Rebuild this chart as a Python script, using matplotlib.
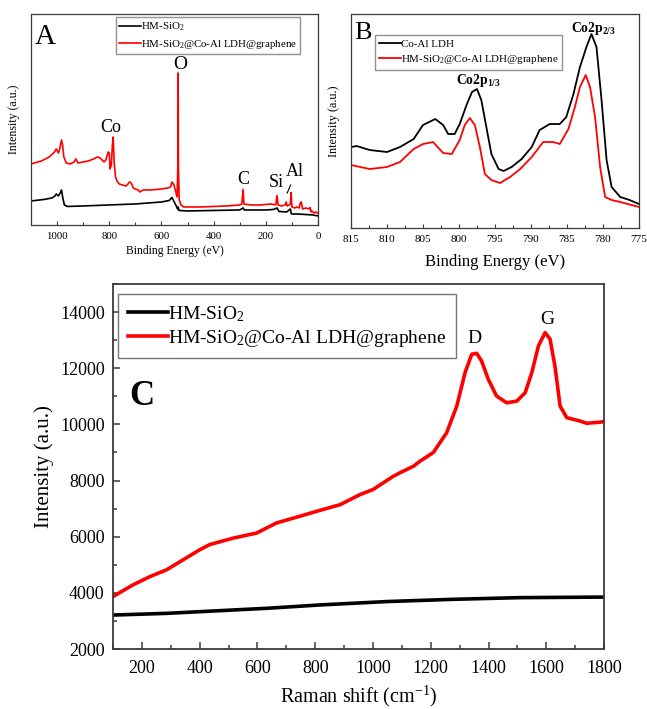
import matplotlib
matplotlib.use('Agg')
import matplotlib.pyplot as plt

plt.rcParams['font.family'] = ['Liberation Serif', 'DejaVu Serif']
plt.rcParams['mathtext.fontset'] = 'custom'
plt.rcParams['mathtext.rm'] = 'Liberation Serif'
plt.rcParams['mathtext.it'] = 'Liberation Serif:italic'
plt.rcParams['mathtext.bf'] = 'Liberation Serif:bold'
plt.rcParams['axes.unicode_minus'] = False

# (A) XPS survey spectra, binding energy (eV) vs intensity (a.u.)
a_red_x = [1100, 1060, 1030, 1010, 1003, 995, 990, 983, 979, 974, 965, 950, 935, 928, 920, 900,
           880, 860, 845, 835, 820, 813, 804, 800, 797, 792, 788, 785, 781, 776, 770, 762, 750,
           735, 722, 716, 708, 700, 690, 683, 670, 640, 600, 575, 565, 560, 552, 546, 540, 537,
           536, 535, 532, 525, 515, 450, 400, 350, 300, 292, 287, 284, 260, 220, 180, 162, 157,
           153, 140, 126, 122, 118, 110, 106, 103, 100, 90, 80, 72, 68, 64, 59, 45, 35, 30, 27,
           24, 15, 8, 0]
a_red_y = [61, 64, 68, 73, 76, 72, 76, 85, 80, 68, 62, 61, 63, 66, 62, 63,
           64, 66, 68, 67, 63, 65, 73, 72, 56, 60, 80, 88, 62, 48, 44, 41, 40,
           39, 43, 42, 37, 36, 35, 33, 35, 35, 36, 37, 38, 43, 40, 34, 28, 60,
           152, 60, 25, 20, 18, 18, 18.5, 19, 20, 21, 35.5, 21, 20, 20, 21, 20, 29.5,
           20, 19, 20, 23, 19, 20, 21, 32.5, 18, 17, 18, 17, 22, 23, 16, 17, 16, 17.5, 13,
           14, 12, 13, 11.5]
a_black_x = [1100, 1050, 1020, 1008, 1003, 995, 988, 983, 978, 972, 960, 900, 800, 700, 600, 570,
             560, 553, 545, 538, 536, 533, 500, 400, 300, 287, 282, 200, 170, 157, 150, 120, 106,
             102, 80, 50, 20, 0]
a_black_y = [24, 25.5, 27, 29, 31, 29, 32, 35, 27, 20, 18.5, 19, 20, 21, 23, 24.5,
             27.5, 24, 20, 16, 18, 14.5, 14, 14.5, 15, 17, 15, 15, 15.5, 17, 13.5, 13, 16,
             11, 11, 10.5, 10, 9]

# (B) Co 2p high-resolution spectra
b_black_x = [815, 814.2, 812.4, 810.0, 808.2, 806.3, 805.0, 803.3, 802.2, 801.5, 800.6, 799.9,
             798.9, 798.2, 797.5, 796.9, 796.2, 795.5, 794.5, 793.8, 792.7, 791.3, 789.9, 788.8,
             787.4, 786.0, 785.1, 784.1, 783.2, 782.3, 781.6, 780.9, 780.2, 779.5, 778.8, 777.6,
             776.3, 775]
b_black_y = [81, 82, 78, 76, 81, 89, 103, 109, 103, 94, 94, 104,
             124, 136, 139, 128, 101, 74, 59, 57, 61, 69, 81, 98,
             104, 104, 111, 134, 161, 181, 194, 181, 128, 68, 41, 31,
             28, 24]
b_red_x = [815, 812.4, 810.0, 808.2, 806.3, 805.0, 803.6, 802.2, 801.0, 799.9, 799.2, 798.5,
           797.8, 797.1, 796.4, 795.5, 794.3, 792.9, 791.5, 789.9, 788.3, 786.9, 786.0, 784.8,
           783.9, 783.2, 782.4, 781.8, 781.1, 780.4, 779.7, 778.8, 777.6, 775]
b_red_y = [63, 59, 61, 66, 79, 84, 86, 75, 74, 88, 103, 110,
           103, 81, 54, 48, 45, 51, 59, 71, 86, 86, 84, 99,
           121, 141, 153, 141, 111, 61, 31, 28, 26, 21]

# (C) Raman spectra
c_red_x = [100, 170, 228, 285, 343, 401, 435, 516, 597, 666, 747, 820, 886, 955, 1000, 1070,
           1094, 1140, 1163, 1209, 1255, 1290, 1319, 1342, 1359, 1376, 1399, 1428, 1463, 1498,
           1527, 1550, 1573, 1596, 1613, 1630, 1648, 1671, 1717, 1740, 1786, 1800]
c_red_y = [3870, 4290, 4580, 4820, 5180, 5540, 5720, 5950, 6130, 6490, 6730, 6950, 7140, 7500,
           7680, 8150, 8280, 8510, 8690, 9000, 9700, 10650, 11850, 12500, 12530, 12260, 11610,
           11010, 10770, 10830, 11130, 11850, 12800, 13270, 13040, 12080, 10650, 10240, 10120,
           10040, 10080, 10100]
c_black_x = [100, 285, 400, 632, 817, 1047, 1277, 1509, 1800]
c_black_y = [3210, 3270, 3330, 3450, 3570, 3690, 3770, 3830, 3850]

sio2 = 'HM-SiO$_2$'
composite = 'HM-SiO$_2$@Co-Al LDH@graphene'
spine_color = '#3a3a3a'


def style_axes(ax, lw):
    for s in ax.spines.values():
        s.set_color(spine_color)
        s.set_linewidth(lw)


fig = plt.figure(figsize=(6.47, 7.09), dpi=100)

# ---- A ----
axA = fig.add_axes([0.0479, 0.6827, 0.4436, 0.2976])
axA.plot(a_black_x, a_black_y, color='black', lw=1.2, label=sio2)
axA.plot(a_red_x, a_red_y, color='#ff0000', lw=1.2, label=composite)
axA.set_xlim(1100, 0)
axA.set_ylim(0, 211)
axA.set_yticks([])
axA.set_xticks(range(0, 1001, 200))
axA.set_xticks(range(0, 1100, 100), minor=True)
axA.tick_params(axis='x', which='major', direction='in', length=3, width=0.8,
                labelsize=7.8, pad=5, color=spine_color)
axA.tick_params(axis='x', which='minor', direction='in', length=2, width=0.8, color=spine_color)
axA.set_xlabel('Binding Energy (eV)', fontsize=8.4, labelpad=3)
axA.set_ylabel('Intensity (a.u.)', fontsize=8.6, labelpad=8)
style_axes(axA, 0.9)
axA.legend(loc='upper left', bbox_to_anchor=(0.296, 0.985), fontsize=7.8, frameon=True,
           fancybox=False, edgecolor='#777777', handlelength=2.0, handletextpad=0.0,
           borderpad=0.3, labelspacing=0.45, borderaxespad=0)
axA.text(0.051, 0.89, 'A', transform=axA.transAxes, fontsize=21, ha='center', va='center')
axA.text(529, 160, 'O', fontsize=14, ha='center', va='center')
axA.text(793, 97, 'Co', fontsize=13, ha='center', va='center')
axA.text(287, 45, 'C', fontsize=13, ha='center', va='center')
axA.text(160, 42, 'Si', fontsize=13, ha='center', va='center')
axA.text(88, 53, 'Al', fontsize=13, ha='center', va='center')
axA.plot([118, 105], [32, 40], color='black', lw=0.8)

# ---- B ----
axB = fig.add_axes([0.5425, 0.6784, 0.4451, 0.3018])
axB.plot(b_black_x, b_black_y, color='black', lw=1.3, label='Co-Al LDH')
axB.plot(b_red_x, b_red_y, color='#ff0000', lw=1.3, label=composite)
axB.set_xlim(815, 775)
axB.set_ylim(0, 214)
axB.set_yticks([])
axB.set_xticks(range(775, 816, 5))
axB.set_xticks([775 + 2.5 * i for i in range(17)], minor=True)
axB.tick_params(axis='x', which='major', direction='in', length=3, width=0.8,
                labelsize=8, pad=5, color=spine_color)
axB.tick_params(axis='x', which='minor', direction='in', length=2, width=0.8, color=spine_color)
axB.set_xlabel('Binding Energy (eV)', fontsize=12, labelpad=7)
axB.set_ylabel('Intensity (a.u.)', fontsize=8.8, labelpad=8)
style_axes(axB, 0.9)
axB.legend(loc='upper left', bbox_to_anchor=(0.083, 0.90), fontsize=7.9, frameon=True,
           fancybox=False, edgecolor='#777777', handlelength=2.0, handletextpad=0.0,
           borderpad=0.35, labelspacing=0.35, borderaxespad=0)
axB.text(0.042, 0.913, 'B', transform=axB.transAxes, fontsize=19, ha='center', va='center')
axB.text(781.3, 200, r'Co2p$_{\mathbf{2/3}}$', fontsize=9.8, fontweight='bold',
         ha='center', va='center')
axB.text(797.3, 148, r'Co2p$_{\mathbf{1/3}}$', fontsize=9.8, fontweight='bold',
         ha='center', va='center')

# ---- C ----
axC = fig.add_axes([0.1747, 0.0846, 0.7589, 0.5148])
axC.plot(c_black_x, c_black_y, color='black', lw=2.6, label=sio2)
axC.plot(c_red_x, c_red_y, color='#ff0000', lw=2.6, label=composite)
axC.set_xlim(100, 1800)
axC.set_ylim(2000, 15000)
axC.set_xticks(range(200, 1801, 200))
axC.set_xticks(range(100, 1801, 100), minor=True)
axC.set_yticks(range(2000, 14001, 2000))
axC.set_yticks(range(2000, 15001, 1000), minor=True)
axC.tick_params(which='major', direction='in', length=5, width=1.1, labelsize=13,
                pad=6, color=spine_color)
axC.tick_params(axis='x', which='major', pad=8)
axC.tick_params(which='minor', direction='in', length=3, width=1.1, color=spine_color)
axC.set_xlabel('Raman shift (cm$^{-1}$)', fontsize=14.5, labelpad=5)
axC.set_ylabel('Intensity (a.u.)', fontsize=15, labelpad=4)
style_axes(axC, 1.3)
axC.legend(loc='upper left', bbox_to_anchor=(0.01, 0.972), fontsize=14, frameon=True,
           fancybox=False, edgecolor='#555555', handlelength=2.1, handletextpad=0.0,
           borderpad=0.5, labelspacing=0.2, borderaxespad=0)
axC.text(199, 11010, 'C', fontsize=25, fontweight='bold', ha='center', va='center')
axC.text(1350, 13060, 'D', fontsize=14, ha='center', va='center')
axC.text(1602, 13750, 'G', fontsize=14, ha='center', va='center')

fig.savefig('out.png', dpi=100)
